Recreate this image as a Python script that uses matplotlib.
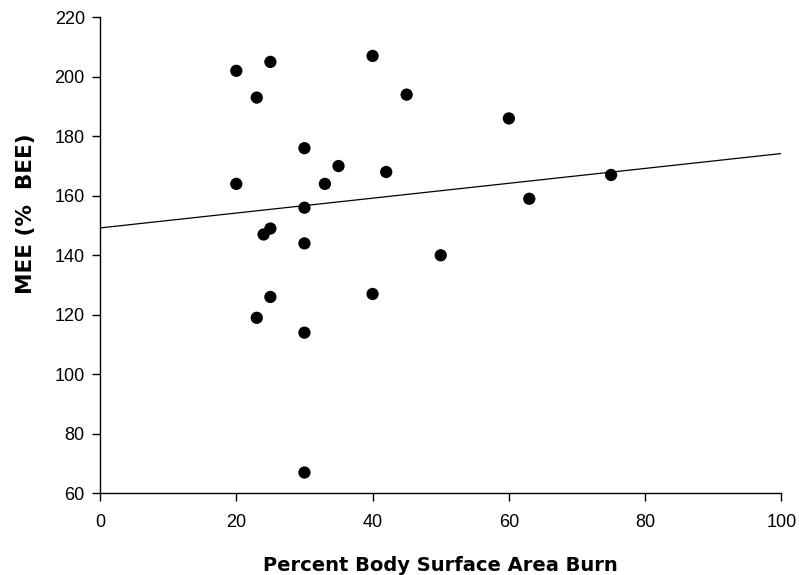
import numpy as np
import matplotlib
matplotlib.use("Agg")
import matplotlib.pyplot as plt

# percent body surface area burn vs measured energy expenditure (% BEE)
burn_pct = [20, 25, 23, 40, 45, 20, 30, 35, 33, 42, 30, 24,
            25, 30, 60, 75, 63, 50, 23, 25, 40, 30, 30]
mee_pct = [202, 205, 193, 207, 194, 164, 176, 170, 164, 168, 156, 147,
           149, 144, 186, 167, 159, 140, 119, 126, 127, 114, 67]

# regression line
fit_x = [0, 100]
fit_y = [149.2, 174.2]

plt.rcParams['font.family'] = ['Liberation Sans', 'DejaVu Sans']

fig = plt.figure(figsize=(7.99, 5.75), dpi=100)
ax = fig.add_axes([0.1252, 0.142, 0.8528, 0.828])

ax.plot(fit_x, fit_y, color='black', linewidth=0.9, zorder=2)
ax.scatter(burn_pct, mee_pct, s=78, color='black', edgecolors='none', zorder=3)

ax.set_xlim(0, 100)
ax.set_ylim(60, 220)
ax.set_xticks(np.arange(0, 101, 20))
ax.set_yticks(np.arange(60, 221, 20))

ax.spines['top'].set_visible(False)
ax.spines['right'].set_visible(False)
ax.spines['left'].set_linewidth(1.0)
ax.spines['bottom'].set_linewidth(1.0)
ax.tick_params(axis='both', direction='out', length=6, width=1.0, labelsize=13)
ax.tick_params(axis='x', pad=9)
ax.tick_params(axis='y', pad=5)

lab_font = dict(family='DejaVu Sans', fontsize=14, fontweight='bold')
ax.set_xlabel('Percent Body Surface Area Burn', labelpad=18, **lab_font)
ax.set_ylabel('MEE (%  BEE)', family='DejaVu Sans', fontsize=15.5, fontweight='bold')
# label sits above the middle of the axis in the original
ax.yaxis.set_label_coords(-0.094, 0.587)

fig.savefig('out.png', dpi=100)
